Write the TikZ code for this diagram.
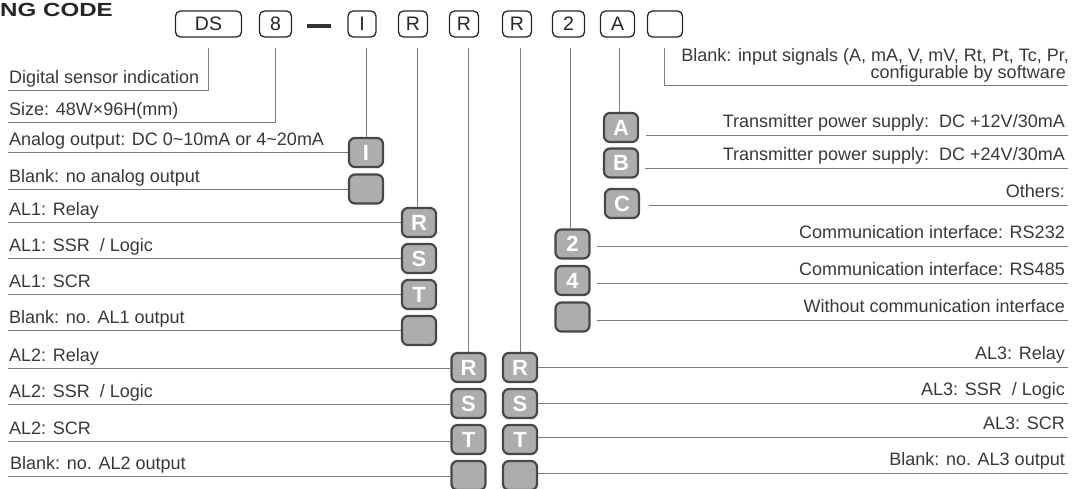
\documentclass[tikz,border=0pt]{standalone}
\usepackage{fontspec}
\setmainfont{Liberation Sans}
\usetikzlibrary{calc}
\begin{document}
\begin{tikzpicture}[x=1pt,y=-1pt,
  topbox/.style={draw=black!85, line width=1.3pt, rounded corners=5pt, minimum height=26pt, minimum width=29pt, inner sep=0pt, font=\fontsize{19.5}{19.5}\selectfont, text=black!85},
  gbox/.style={draw=black!72, fill=black!32, line width=2.2pt, rounded corners=6pt, minimum width=34pt, minimum height=29pt, inner sep=0pt, text=white, font=\fontsize{22}{22}\selectfont\bfseries},
  lab/.style={font=\fontsize{18}{18}\selectfont, text=black!78, inner sep=0pt},
  llab/.style={lab, anchor=base west},
  rlab/.style={lab, anchor=base east},
  ln/.style={draw=black!52, line width=0.8pt},
  dashbar/.style={draw=black!80, line width=3.5pt},
]
\useasboundingbox (0,0) rectangle (1073,488);

% title
\node[anchor=base west, inner sep=0pt, font=\fontsize{19}{19}\selectfont\bfseries, text=black!85] (title) at (0,16) {\scalebox{1.27}[1]{NG CODE}};

% top code boxes
\node[topbox, minimum width=66pt] (tDS) at (208.5,24) {DS};
\node[topbox, minimum width=32pt] (t8) at (275.5,24) {8};
\coordinate (dA) at (307,26);
\coordinate (dB) at (331,26);
\draw[dashbar] (dA) -- (dB);
\node[topbox, minimum width=28pt] (tI) at (362,24) {I};
\node[topbox] (tR1) at (413,24) {R};
\node[topbox] (tR2) at (464,24) {R};
\node[topbox] (tR3) at (517,24) {R};
\node[topbox, minimum width=32pt] (t2) at (568.5,24) {2};
\node[topbox, minimum width=34pt] (tA) at (617.5,24) {A};
\node[topbox, minimum width=35pt] (tB) at (665,24) {};

% grey option boxes
\node[gbox] (gI) at (366,152.5) {I};
\node[gbox] (gI0) at (366,189) {};
\node[gbox] (a1R) at (419,222.5) {R};
\node[gbox] (a1S) at (419,258.5) {S};
\node[gbox] (a1T) at (419,294.5) {T};
\node[gbox] (a1B) at (419,330.5) {};
\node[gbox] (a2R) at (468.5,367.5) {R};
\node[gbox] (a2S) at (468.5,403.5) {S};
\node[gbox] (a2T) at (468.5,439.5) {T};
\node[gbox] (a2B) at (468.5,475.5) {};
\node[gbox] (a3R) at (520,367.5) {R};
\node[gbox] (a3S) at (520,403.5) {S};
\node[gbox] (a3T) at (520,439.5) {T};
\node[gbox] (a3B) at (520,475.5) {};
\node[gbox] (c2) at (572.5,244) {2};
\node[gbox] (c4) at (572.5,280.5) {4};
\node[gbox] (cB) at (572.5,317) {};
\node[gbox] (pA) at (621,127.5) {A};
\node[gbox] (pB) at (621,163) {B};
\node[gbox] (pC) at (622,203.5) {C};

% vertical leads from the code boxes
\coordinate (uDig) at (8,90);
\coordinate (uSize) at (8,122);
\coordinate (uBl) at (1068,85);
\draw[ln] ($(tDS.south)+(0,10)$) |- (uDig);
\draw[ln] ($(t8.south)+(0,10)$) |- (uSize);
\draw[ln] ($(tI.south -| gI.north)+(0,10)$) -- (gI.north);
\draw[ln] ($(tR1.south -| a1R.north)+(-2,10)$) -- ($(a1R.north)+(-2,0)$);
\draw[ln] ($(tR2.south -| a2R.north)+(0,10)$) -- (a2R.north);
\draw[ln] ($(tR3.south -| a3R.north)+(0,10)$) -- (a3R.north);
\draw[ln] ($(t2.south -| c2.north)+(-2,10)$) -- ($(c2.north)+(-2,0)$);
\draw[ln] ($(tA.south -| pA.north)+(-2,10)$) -- ($(pA.north)+(-2,0)$);
\draw[ln] ($(tB.south)+(-1,10)$) |- (uBl);

% left labels
\node[llab] (lDig) at (9,83) {Digital sensor indication};
\node[llab] (lSize) at (9,115) {Size: 48W×96H(mm)};
\node[llab] (lAna) at (9,145.5) {Analog output: DC 0\textasciitilde10mA or 4\textasciitilde20mA};
\node[llab] (lAna0) at (9,182) {Blank: no analog output};
\node[llab] (l1R) at (9,215.5) {AL1: Relay};
\node[llab] (l1S) at (9,251.5) {AL1: SSR\ \ / Logic};
\node[llab] (l1T) at (9,287.5) {AL1: SCR};
\node[llab] (l1B) at (9,323.5) {Blank: no. AL1 output};
\node[llab] (l2R) at (9,361) {AL2: Relay};
\node[llab] (l2S) at (9,397) {AL2: SSR\ \ / Logic};
\node[llab] (l2T) at (9,434) {AL2: SCR};
\node[llab] (l2B) at (10,469) {Blank: no. AL2 output};

\coordinate (uAna) at (8,152.5);
\coordinate (uAna0) at (8,189);
\coordinate (u1R) at (8,222.5);
\coordinate (u1S) at (8,258.5);
\coordinate (u1T) at (8,294.5);
\coordinate (u1B) at (8,330.5);
\coordinate (u2R) at (8,368);
\coordinate (u2S) at (8,404);
\coordinate (u2T) at (8,441);
\coordinate (u2B) at (8,476);
\draw[ln] (uAna) -- (uAna -| gI.west);
\draw[ln] (uAna0) -- (uAna0 -| gI0.west);
\draw[ln] (u1R) -- (u1R -| a1R.west);
\draw[ln] (u1S) -- (u1S -| a1S.west);
\draw[ln] (u1T) -- (u1T -| a1T.west);
\draw[ln] (u1B) -- (u1B -| a1B.west);
\draw[ln] (u2R) -- (u2R -| a2R.west);
\draw[ln] (u2S) -- (u2S -| a2S.west);
\draw[ln] (u2T) -- (u2T -| a2T.west);
\draw[ln] (u2B) -- (u2B -| a2B.west);

% right labels
\node[rlab] (rBl1) at (1069,61) {Blank: input signals (A, mA, V, mV, Rt, Pt, Tc, Pr,};
\node[rlab] (rBl2) at (1066,78) {configurable by software};
\node[rlab] (rPA) at (1065,127) {Transmitter power supply:\ \ DC +12V/30mA};
\node[rlab] (rPB) at (1065,160) {Transmitter power supply:\ \ DC +24V/30mA};
\node[rlab] (rPC) at (1065,197) {Others:};
\node[rlab] (rc2) at (1065,238) {Communication interface: RS232};
\node[rlab] (rc4) at (1065,275) {Communication interface: RS485};
\node[rlab] (rcB) at (1065,312) {Without communication interface};
\node[rlab] (r3R) at (1065,359) {AL3: Relay};
\node[rlab] (r3S) at (1065,395) {AL3: SSR\ \ / Logic};
\node[rlab] (r3T) at (1065,429) {AL3: SCR};
\node[rlab] (r3B) at (1065,465) {Blank: no. AL3 output};

\coordinate (vPA) at (1068,135);
\coordinate (vPB) at (1068,168);
\coordinate (vPC) at (1068,205);
\coordinate (vc2) at (1068,246);
\coordinate (vc4) at (1068,283);
\coordinate (vcB) at (1068,320);
\coordinate (v3R) at (1068,367);
\coordinate (v3S) at (1068,403);
\coordinate (v3T) at (1068,437);
\coordinate (v3B) at (1068,473);
\draw[ln] ($(vPA -| pA.east)+(7,0)$) -- (vPA);
\draw[ln] ($(vPB -| pB.east)+(6,0)$) -- (vPB);
\draw[ln] ($(vPC -| pC.east)+(9,0)$) -- (vPC);
\draw[ln] ($(vc2 -| c2.east)+(6,0)$) -- (vc2);
\draw[ln] ($(vc4 -| c4.east)+(6,0)$) -- (vc4);
\draw[ln] ($(vcB -| cB.east)+(6,0)$) -- (vcB);
\draw[ln] (v3R -| a3R.east) -- (v3R);
\draw[ln] (v3S -| a3S.east) -- (v3S);
\draw[ln] (v3T -| a3T.east) -- (v3T);
\draw[ln] (v3B -| a3B.east) -- (v3B);
\end{tikzpicture}
\end{document}
